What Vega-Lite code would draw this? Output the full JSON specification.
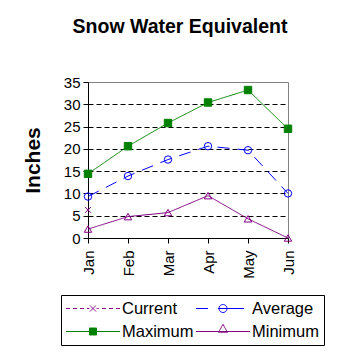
{
  "$schema": "https://vega.github.io/schema/vega-lite/v6.json",
  "width": 200,
  "height": 156,
  "autosize": {"type": "none"},
  "padding": {"left": 88, "top": 82, "right": 70, "bottom": 120},
  "background": "white",
  "title": {
    "text": "Snow Water Equivalent",
    "font": "Liberation Sans",
    "fontSize": 19.5,
    "fontWeight": "bold",
    "color": "black",
    "anchor": "middle",
    "frame": "group",
    "dx": -8,
    "offset": 38
  },
  "config": {
    "view": {"stroke": "#808080", "strokeWidth": 1},
    "axis": {
      "labelFont": "Liberation Sans",
      "labelColor": "black",
      "titleFont": "Liberation Sans",
      "titleColor": "black",
      "domainColor": "black",
      "tickColor": "black"
    }
  },
  "data": {
    "values": [
      {"month": "Jan", "series": "Current", "value": 6.3},
      {"month": "Jan", "series": "Average", "value": 9.3},
      {"month": "Feb", "series": "Average", "value": 13.9},
      {"month": "Mar", "series": "Average", "value": 17.6},
      {"month": "Apr", "series": "Average", "value": 20.6},
      {"month": "May", "series": "Average", "value": 19.7},
      {"month": "Jun", "series": "Average", "value": 10.0},
      {"month": "Jan", "series": "Maximum", "value": 14.4},
      {"month": "Feb", "series": "Maximum", "value": 20.6},
      {"month": "Mar", "series": "Maximum", "value": 25.8},
      {"month": "Apr", "series": "Maximum", "value": 30.4},
      {"month": "May", "series": "Maximum", "value": 33.2},
      {"month": "Jun", "series": "Maximum", "value": 24.5},
      {"month": "Jan", "series": "Minimum", "value": 2.0},
      {"month": "Feb", "series": "Minimum", "value": 4.8},
      {"month": "Mar", "series": "Minimum", "value": 5.7},
      {"month": "Apr", "series": "Minimum", "value": 9.5},
      {"month": "May", "series": "Minimum", "value": 4.3},
      {"month": "Jun", "series": "Minimum", "value": 0.0}
    ]
  },
  "encoding": {
    "x": {
      "field": "month",
      "type": "ordinal",
      "sort": ["Jan", "Feb", "Mar", "Apr", "May", "Jun"],
      "scale": {"type": "point", "padding": 0},
      "axis": {
        "title": null,
        "labelAngle": 270,
        "labelAlign": "right",
        "labelBaseline": "middle",
        "labelFontSize": 15,
        "labelPadding": 7,
        "tickSize": 5,
        "grid": false
      }
    },
    "y": {
      "field": "value",
      "type": "quantitative",
      "scale": {"domain": [0, 35], "nice": false},
      "axis": {
        "title": "Inches",
        "titleFontSize": 21,
        "titleFontWeight": "bold",
        "titleAngle": 270,
        "titleX": -55,
        "titleY": 78,
        "titleAlign": "center",
        "titleBaseline": "middle",
        "values": [0, 5, 10, 15, 20, 25, 30, 35],
        "labelFontSize": 15,
        "labelPadding": 3,
        "tickSize": 5,
        "grid": true,
        "gridColor": "black",
        "gridDash": [5, 3],
        "gridOpacity": {"condition": {"test": "datum.value === 35 || datum.value === 0", "value": 0}, "value": 1}
      }
    }
  },
  "layer": [
    {
      "mark": {"type": "line", "strokeWidth": 1},
      "encoding": {
        "color": {
          "field": "series",
          "type": "nominal",
          "scale": {
            "domain": ["Current", "Average", "Maximum", "Minimum"],
            "range": ["#800080", "#0000FF", "#008000", "#800080"]
          },
          "legend": {
            "title": null,
            "orient": "none",
            "legendX": -27,
            "legendY": 213,
            "columns": 2,
            "direction": "horizontal",
            "strokeColor": "black",
            "padding": 5,
            "rowPadding": 5,
            "columnPadding": 0,
            "symbolSize": 256,
            "symbolStrokeWidth": 1,
            "labelFont": "Liberation Sans",
            "labelFontSize": 16.5,
            "labelColor": "black",
            "labelOffset": 39,
            "encode": {
              "symbols": {
                "update": {
                  "shape": {"signal": "datum.value === 'Current' ? 'M-1.0625,0H-0.5625M-0.1875,0H0.3125M0.6875,0H1.1875M1.5625,0H1.8625M2.7625,0H3.0625M3.4375,0H3.9375M4.3125,0H4.8125M5.1875,0H5.6875M1.9375,-0.375L2.6875,0.375M1.9375,0.375L2.6875,-0.375' : datum.value === 'Average' ? 'M-1.0625,0H0.4375M1.6875,0H4.9375M1.8125,0A0.5,0.5 0 1,0 2.8125,0A0.5,0.5 0 1,0 1.8125,0Z' : datum.value === 'Maximum' ? 'M-1.0625,0H5.6875M1.8725,-0.44H2.7525V0.44H1.8725Z' : 'M-1.0625,0H5.6875M1.7525,0.1L2.3125,-0.9L2.8725,0.1Z'"},
                  "fill": {"signal": "datum.value === 'Maximum' ? '#008000' : 'transparent'"},
                  "strokeDash": {"value": [1, 0]},
                  "strokeWidth": {"value": 1}
                }
              }
            }
          }
        },
        "strokeDash": {
          "condition": {"test": "datum.series === 'Average'", "value": [12, 8]},
          "value": [1, 0]
        }
      }
    },
    {
      "mark": {"type": "point", "strokeWidth": 1, "opacity": 1, "size": 55},
      "encoding": {
        "stroke": {
          "condition": [
            {"test": "datum.series === 'Average'", "value": "#0000FF"},
            {"test": "datum.series === 'Maximum'", "value": "#008000"}
          ],
          "value": "#800080"
        },
        "fill": {
          "condition": {"test": "datum.series === 'Maximum'", "value": "#008000"},
          "value": "transparent"
        },
        "shape": {
          "condition": [
            {"test": "datum.series === 'Current'", "value": "M-0.8,-0.8L0.8,0.8M-0.8,0.8L0.8,-0.8"},
            {"test": "datum.series === 'Average'", "value": "circle"},
            {"test": "datum.series === 'Maximum'", "value": "square"}
          ],
          "value": "triangle-up"
        }
      }
    }
  ]
}
